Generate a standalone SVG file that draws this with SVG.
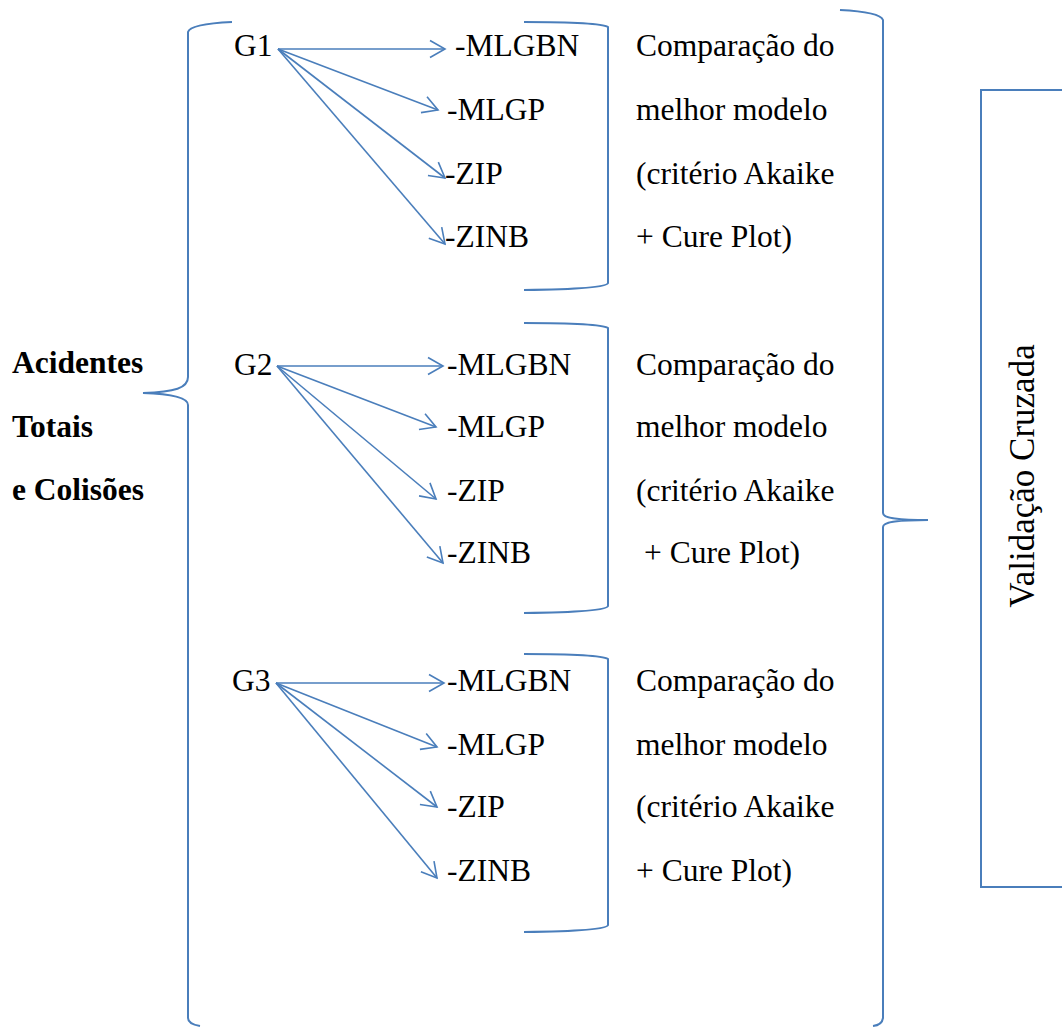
<svg xmlns="http://www.w3.org/2000/svg" width="1062" height="1027" viewBox="0 0 1062 1027" font-family="'Liberation Serif', 'Times New Roman', serif">
<defs>
<marker id="ah" markerUnits="userSpaceOnUse" markerWidth="20" markerHeight="20" viewBox="-16 -10 20 20" refX="0" refY="0" orient="auto">
<path d="M-15,-8.5 L0,0 L-15,8.5" fill="none" stroke="#4A7EBB" stroke-width="1.6"/>
</marker>
</defs>
<style>
text{font-family:'Liberation Serif','Times New Roman',serif;font-size:31.5px;fill:#000}
.b{font-weight:bold}
.br{fill:none;stroke:#4A7EBB;stroke-width:2}
.ar{fill:none;stroke:#4A7EBB;stroke-width:1.6;marker-end:url(#ah)}
.v{font-size:35px}
</style>
<rect width="1062" height="1027" fill="#fff"/>
<g id="title">
<text class="b" x="12" y="373">Acidentes</text>
<text class="b" x="12" y="437">Totais</text>
<text class="b" x="12" y="500">e Colisões</text>
</g>
<g id="brace-left"><path class="br" d="M232,22 Q190,24 188,32 L188,377 C188,388 175,392 143,393 C175,394 188,398 188,405 L188,1018 Q188,1024 200,1026"/></g>
<g id="brace-right"><path class="br" d="M840,10 Q880,12 883,20 L883,513 C883,518 895,520 928,520 C895,520 883,522 883,527 L883,1018 Q882,1025 873,1026"/></g>
<g id="g1">
<text x="234" y="56">G1</text>
<text x="455" y="56">-MLGBN</text>
<text x="447" y="120">-MLGP</text>
<text x="445" y="184">-ZIP</text>
<text x="445" y="247">-ZINB</text>
<path class="br" d="M524,22 Q600,22 608,27 L608,283 Q607,289 524,290"/>
<text x="636" y="56">Comparação do</text>
<text x="636" y="120">melhor modelo</text>
<text x="636" y="184">(critério Akaike</text>
<text x="636" y="247">+ Cure Plot)</text>
</g>
<g id="g2">
<text x="234" y="375">G2</text>
<text x="447" y="375">-MLGBN</text>
<text x="447" y="437">-MLGP</text>
<text x="447" y="501">-ZIP</text>
<text x="447" y="563">-ZINB</text>
<path class="br" d="M524,323 Q600,323 608,328 L608,606 Q607,612 524,613"/>
<text x="636" y="375">Comparação do</text>
<text x="636" y="437">melhor modelo</text>
<text x="636" y="501">(critério Akaike</text>
<text x="644" y="563">+ Cure Plot)</text>
</g>
<g id="g3">
<text x="232" y="691">G3</text>
<text x="447" y="691">-MLGBN</text>
<text x="447" y="755">-MLGP</text>
<text x="447" y="817">-ZIP</text>
<text x="447" y="881">-ZINB</text>
<path class="br" d="M524,654 Q600,654 608,659 L608,925 Q607,931 524,932"/>
<text x="636" y="691">Comparação do</text>
<text x="636" y="755">melhor modelo</text>
<text x="636" y="817">(critério Akaike</text>
<text x="636" y="881">+ Cure Plot)</text>
</g>
<g id="validacao">
<rect x="981" y="90" width="120" height="797" fill="none" stroke="#4A7EBB" stroke-width="2"/>
<text class="v" transform="translate(1034,476) rotate(-90)" text-anchor="middle">Validação Cruzada</text>
</g>
<g id="connectors">
<path class="ar" d="M278,49 L445,49"/>
<path class="ar" d="M278,49 L438,110"/>
<path class="ar" d="M278,49 L445,178"/>
<path class="ar" d="M278,49 L445,244"/>
<path class="ar" d="M277,366 L443,366"/>
<path class="ar" d="M277,366 L436,427"/>
<path class="ar" d="M277,366 L436,499"/>
<path class="ar" d="M277,366 L443,563"/>
<path class="ar" d="M276,683 L444,683"/>
<path class="ar" d="M276,683 L437,747"/>
<path class="ar" d="M276,683 L437,807"/>
<path class="ar" d="M276,683 L437,878"/>
</g>
</svg>
